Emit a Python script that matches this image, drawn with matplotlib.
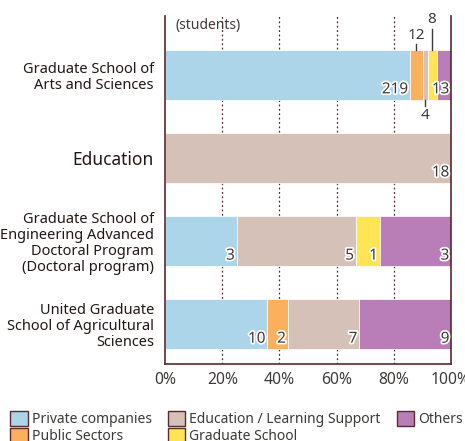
import numpy as np
import matplotlib.pyplot as plt
import matplotlib.patheffects as pe
from matplotlib.patches import Patch

plt.rcParams['font.family'] = ['Noto Sans', 'DejaVu Sans']

schools = ['Graduate School of\nArts and Sciences',
           'Education',
           'Graduate School of\nEngineering Advanced\nDoctoral Program\n(Doctoral program)',
           'United Graduate\nSchool of Agricultural\nSciences']
series = ['Private companies', 'Public Sectors', 'Education / Learning Support',
          'Graduate School', 'Others']
private = [219, 0, 3, 10]
public = [12, 0, 0, 2]
education = [4, 18, 5, 7]
grad_school = [8, 0, 1, 0]
others = [13, 0, 3, 9]
colors = ['#acd5ea', '#fbb05e', '#d5c1b8', '#ffe454', '#b97eb7']

data = np.array([private, public, education, grad_school, others], dtype=float)
totals = data.sum(axis=0)
pct = data / totals * 100

fig = plt.figure(figsize=(4.65, 4.41), dpi=100)
ax = fig.add_axes([0.355, 0.175, 0.615, 0.789])
dark = '#5a2a2e'
txt = '#3e3a39'

y = np.arange(len(schools))
left = np.zeros(len(schools))
for i in range(len(series)):
    ax.barh(y, pct[i], left=left, height=0.6, color=colors[i],
            edgecolor='white', linewidth=0.5, zorder=2)
    left += pct[i]

stroke = [pe.withStroke(linewidth=2.5, foreground='white')]
cum = np.cumsum(pct, axis=0)
for j in range(len(schools)):
    for i in range(len(series)):
        v = data[i, j]
        if v == 0:
            continue
        xr = cum[i, j]
        xc = xr - pct[i, j] / 2
        if j == 0 and i == 1:
            # small segments of the first bar get callouts
            ax.text(xc, y[j] - 0.38, f'{int(v)}', ha='center', va='bottom',
                    fontsize=11, color=txt)
            ax.plot([xc, xc], [y[j] - 0.3, y[j] - 0.37], color=txt, lw=1)
        elif j == 0 and i == 3:
            ax.text(xc, y[j] - 0.58, f'{int(v)}', ha='center', va='bottom',
                    fontsize=11, color=txt)
            ax.plot([xc, xc], [y[j] - 0.3, y[j] - 0.55], color=txt, lw=1)
        elif j == 0 and i == 2:
            ax.text(xc, y[j] + 0.4, f'{int(v)}', ha='center', va='top',
                    fontsize=11, color=txt)
            ax.plot([xc, xc], [y[j] + 0.3, y[j] + 0.38], color=txt, lw=1)
        else:
            ax.text(xr - 0.6, y[j] + 0.27, f'{int(v)}', ha='right', va='bottom',
                    fontsize=11, color=txt, path_effects=stroke, zorder=4)

ax.set_xlim(0, 100)
ax.set_ylim(3.476, -0.71)
ax.set_yticks(y)
ax.set_yticklabels(schools, fontsize=10.5, color='#231815', linespacing=1.1)
ax.get_yticklabels()[1].set_fontsize(12.5)
ax.set_xticks(np.arange(0, 101, 20))
ax.set_xticklabels([f'{t}%' for t in range(0, 101, 20)], fontsize=11.3, color=txt)
ax.tick_params(axis='y', length=0, pad=8)
ax.tick_params(axis='x', length=0, pad=6)
for t in [20, 40, 60, 80]:
    ax.axvline(t, color=dark, ls=(0, (1.5, 2)), lw=0.9, zorder=1)
for s in ['left', 'right', 'bottom']:
    ax.spines[s].set_color(dark)
    ax.spines[s].set_linewidth(1.2)
ax.spines['top'].set_visible(False)
ax.text(3.5, -0.68, '(students)', fontsize=10, color=txt, va='top', ha='left')

handles = [Patch(facecolor=c, edgecolor=dark, label=s) for c, s in zip(colors, series)]
fig.legend(handles=handles, loc='upper left', bbox_to_anchor=(0.022, 0.068),
           ncol=3, frameon=False, fontsize=10, handlelength=1.25,
           handleheight=1.25, handletextpad=0.3, columnspacing=1.15,
           labelspacing=0.05, borderaxespad=0, borderpad=0, labelcolor=txt)

fig.savefig('out.png', dpi=100)
